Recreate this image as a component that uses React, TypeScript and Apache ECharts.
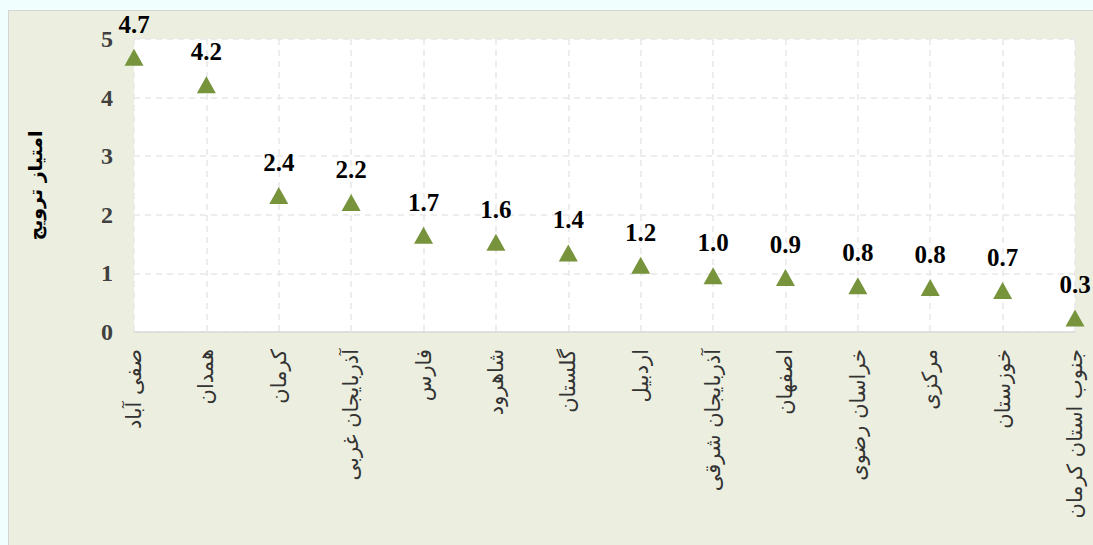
import React, { useEffect, useRef } from "react";
import * as echarts from "echarts";

const categories = [
  "صفی آباد",
  "همدان",
  "کرمان",
  "آذربایجان غربی",
  "فارس",
  "شاهرود",
  "گلستان",
  "اردبیل",
  "آذربایجان شرقی",
  "اصفهان",
  "خراسان رضوی",
  "مرکزی",
  "خوزستان",
  "جنوب استان کرمان",
];
const scores = [4.7, 4.2, 2.4, 2.2, 1.7, 1.6, 1.4, 1.2, 1.0, 0.9, 0.8, 0.8, 0.7, 0.3];
const markerY = [4.69, 4.22, 2.33, 2.21, 1.65, 1.53, 1.35, 1.14, 0.96, 0.93, 0.79, 0.76, 0.71, 0.24];
const yTicks = [0, 1, 2, 3, 4, 5];
const yAxisTitle = "امتیاز ترویج";

const SERIF = "'Liberation Serif', 'Times New Roman', serif";

export default function App() {
  const ref = useRef<HTMLDivElement>(null);
  useEffect(() => {
    document.body.style.background = "#f0fefe";
    document.body.style.margin = "0";
    document.body.style.overflow = "hidden";
    const chart = echarts.init(ref.current!, null, { renderer: "svg" });
    chart.setOption({
      animation: false,
      backgroundColor: "#ecefdf",
      grid: {
        left: 125,
        top: 28,
        right: 18,
        bottom: 213,
        show: true,
        backgroundColor: "#ffffff",
        borderWidth: 0,
      },
      xAxis: {
        type: "category",
        data: categories,
        boundaryGap: false,
        axisLine: { show: true, lineStyle: { color: "#d9d9d9", width: 1.5 } },
        axisTick: { show: false },
        splitLine: { show: true, lineStyle: { color: "#e8e8e8", type: [6, 5], width: 1.5 } },
        axisLabel: {
          rotate: 90,
          margin: 17,
          interval: 0,
          color: "#333333",
          fontSize: 21,
          fontFamily: "DejaVu Sans",
        },
      },
      yAxis: {
        type: "value",
        min: 0,
        max: 5,
        interval: 1,
        name: yAxisTitle,
        nameLocation: "middle",
        nameGap: 90,
        nameTextStyle: {
          color: "#000000",
          fontSize: 19,
          fontWeight: "bold",
          fontFamily: "DejaVu Sans",
        },
        axisLine: { show: false },
        axisTick: { show: false },
        splitLine: { show: true, lineStyle: { color: "#e8e8e8", type: [6, 5], width: 1.5 } },
        axisLabel: {
          margin: 21,
          color: "#404040",
          fontSize: 24,
          fontWeight: "bold",
          fontFamily: SERIF,
          formatter: (v: number) => (yTicks.includes(v) ? String(v) : ""),
        },
      },
      series: [
        {
          type: "scatter",
          data: markerY.map((v, i) => ({ value: v, label: { formatter: scores[i].toFixed(1) } })),
          symbol: "triangle",
          symbolSize: [19, 17],
          itemStyle: { color: "#77933c", opacity: 1 },
          label: {
            show: true,
            position: "top",
            distance: 12,
            color: "#000000",
            fontSize: 25,
            fontWeight: "bold",
            fontFamily: SERIF,
          },
        },
      ],
    });
    return () => chart.dispose();
  }, []);
  return (
    <div
      ref={ref}
      style={{
        position: "absolute",
        left: 8,
        top: 10,
        width: 1085,
        height: 535,
        boxSizing: "border-box",
        borderLeft: "1px solid #d4d4d4",
        borderTop: "1px solid #d4d4d4",
      }}
    />
  );
}
